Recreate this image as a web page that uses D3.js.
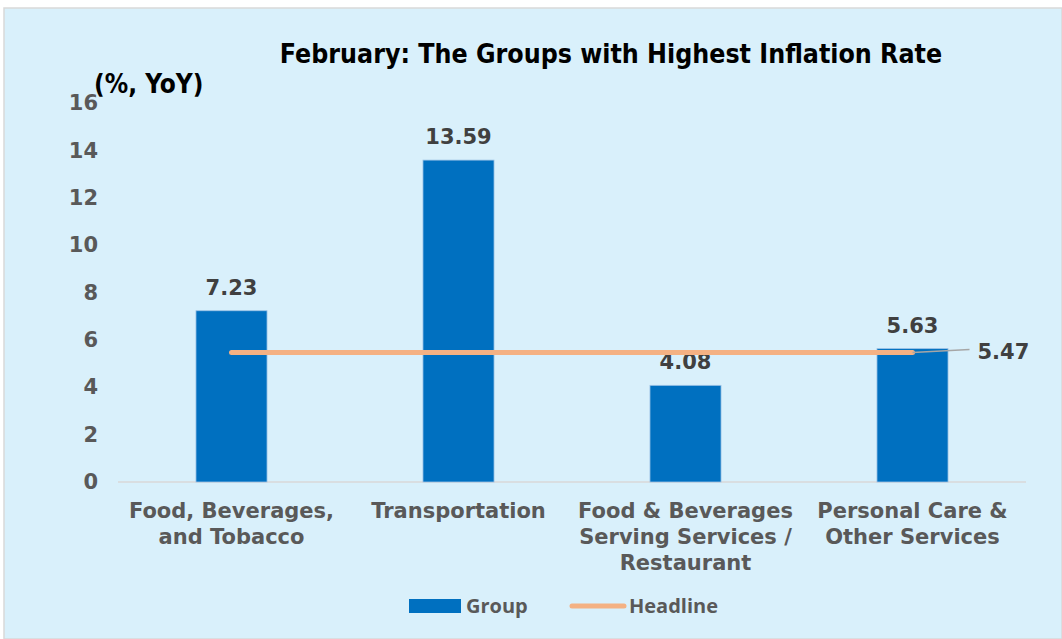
<!DOCTYPE html>
<html>
<head>
<meta charset="utf-8">
<script src="https://cdn.jsdelivr.net/npm/d3@7"></script>
<style>
  body { margin: 0; background: #fff; }
  svg text { font-family: "DejaVu Sans", Verdana, sans-serif; font-weight: bold; }
</style>
</head>
<body>
<div class="chart"></div>
<script>
const categories = [
  ['Food, Beverages,', 'and Tobacco'],
  ['Transportation'],
  ['Food & Beverages', 'Serving Services /', 'Restaurant'],
  ['Personal Care &', 'Other Services']
];
const groupValues = [7.23, 13.59, 4.08, 5.63];
const headlineValues = [5.47, 5.47, 5.47, 5.47];
const yTicks = [0, 2, 4, 6, 8, 10, 12, 14, 16];

const W = 1062, H = 639;
const svg = d3.select('.chart').append('svg')
  .attr('width', W).attr('height', H);

// panel background
svg.append('rect')
  .attr('x', 4).attr('y', 8).attr('width', W - 4).attr('height', H - 8)
  .style('fill', '#d9f0fb')
  .style('stroke', '#d9d9d9')
  .style('stroke-width', 1.5);

svg.append('text')
  .attr('x', 611).attr('y', 63)
  .attr('text-anchor', 'middle')
  .style('font-family', '"DejaVu Sans Condensed", "DejaVu Sans", sans-serif')
  .style('font-size', '26.5px')
  .style('fill', '#000')
  .text('February: The Groups with Highest Inflation Rate');

svg.append('text')
  .attr('x', 94).attr('y', 93)
  .style('font-family', '"DejaVu Sans Condensed", "DejaVu Sans", sans-serif')
  .style('font-size', '26px')
  .style('fill', '#000')
  .text('(%, YoY)');

const x = d3.scaleBand()
  .domain(d3.range(categories.length))
  .range([118, 1026])
  .paddingInner(0.687)
  .paddingOuter(0.3435);

const y = d3.scaleLinear()
  .domain([0, 16])
  .range([482, 103]);

// y axis labels
const yAxis = svg.append('g')
  .attr('transform', 'translate(98,0)')
  .call(d3.axisLeft(y).tickValues(yTicks).tickSize(0).tickPadding(0));
yAxis.select('.domain').remove();
yAxis.selectAll('text')
  .style('font-size', '21px')
  .style('fill', '#595959')
  .style('font-family', '"DejaVu Sans", sans-serif');

// baseline
svg.append('line')
  .attr('x1', 118).attr('x2', 1026)
  .attr('y1', y(0)).attr('y2', y(0))
  .style('stroke', '#d9d9d9')
  .style('stroke-width', 1.5);

// bars
svg.selectAll('.bar')
  .data(groupValues)
  .enter()
  .append('rect')
  .attr('class', 'bar')
  .attr('x', (d, i) => x(i))
  .attr('width', x.bandwidth())
  .attr('y', d => y(d))
  .attr('height', d => y(0) - y(d))
  .style('fill', '#0070c0')
  .style('stroke', '#9dc3e6')
  .style('stroke-width', 0.8);

svg.selectAll('.bar-label')
  .data(groupValues)
  .enter()
  .append('text')
  .attr('class', 'bar-label')
  .attr('x', (d, i) => x(i) + x.bandwidth() / 2)
  .attr('y', d => y(d) - 16)
  .attr('text-anchor', 'middle')
  .style('font-size', '21px')
  .style('fill', '#404040')
  .text(d => d.toFixed(2));

// headline line
const cx = i => x(i) + x.bandwidth() / 2;
const line = d3.line()
  .x((d, i) => cx(i))
  .y(d => y(d));

svg.append('path')
  .attr('d', line(headlineValues))
  .style('fill', 'none')
  .style('stroke', '#f4b183')
  .style('stroke-width', 5)
  .style('stroke-linecap', 'round');

// headline label with leader line
const last = headlineValues.length - 1;
svg.append('line')
  .attr('x1', cx(last)).attr('y1', y(headlineValues[last]))
  .attr('x2', cx(last) + 57).attr('y2', y(headlineValues[last]) - 3)
  .style('stroke', '#a6a6a6')
  .style('stroke-width', 1.5);
svg.append('text')
  .attr('x', cx(last) + 65).attr('y', y(headlineValues[last]) + 7)
  .style('font-size', '21px')
  .style('fill', '#404040')
  .text(headlineValues[last].toFixed(2));

// category labels
const catG = svg.selectAll('.cat')
  .data(categories)
  .enter()
  .append('text')
  .attr('class', 'cat')
  .attr('text-anchor', 'middle')
  .style('font-size', '21px')
  .style('fill', '#595959');
catG.selectAll('tspan')
  .data((d, i) => d.map(t => ({t, i})))
  .enter()
  .append('tspan')
  .attr('x', d => cx(d.i))
  .attr('y', (d, j) => 518 + j * 26)
  .text(d => d.t);

// legend
const lg = svg.append('g');
lg.append('rect')
  .attr('x', 409).attr('y', 599).attr('width', 52).attr('height', 14)
  .style('fill', '#0070c0');
lg.append('text')
  .attr('x', 466).attr('y', 613)
  .style('font-size', '20px')
  .style('fill', '#595959')
  .style('font-family', '"Open Sans", sans-serif')
  .text('Group');
lg.append('line')
  .attr('x1', 572).attr('x2', 624).attr('y1', 606).attr('y2', 606)
  .style('stroke', '#f4b183')
  .style('stroke-width', 5)
  .style('stroke-linecap', 'round');
lg.append('text')
  .attr('x', 629).attr('y', 613)
  .style('font-size', '20px')
  .style('fill', '#595959')
  .style('font-family', '"Open Sans", sans-serif')
  .text('Headline');
</script>
</body>
</html>
